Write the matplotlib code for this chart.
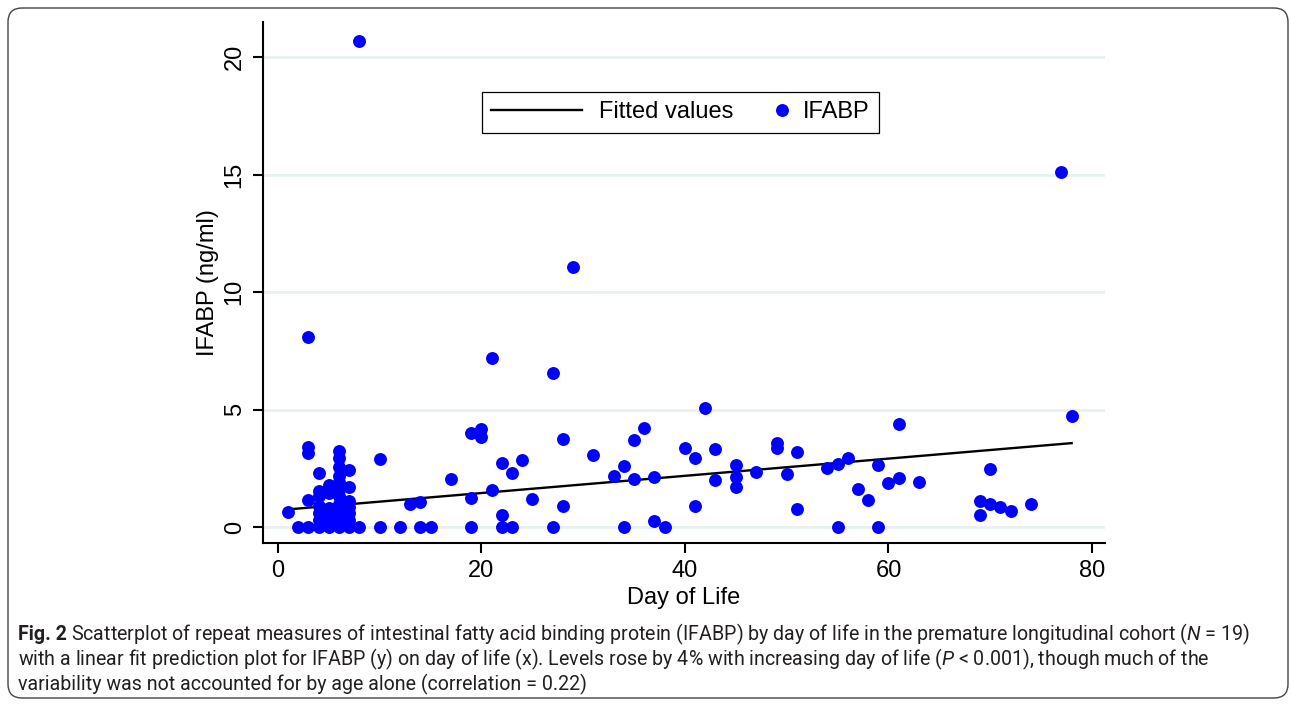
import numpy as np
import matplotlib
matplotlib.use("Agg")
import matplotlib.pyplot as plt
import matplotlib.patches as mpatches
import matplotlib.transforms as mtransforms
from matplotlib.lines import Line2D
from matplotlib.legend_handler import HandlerLine2D

# Repeat measures (day of life, IFABP ng/ml)
day_of_life = [
    1, 2,
    3, 3, 3, 3, 3,
    4, 4, 4, 4, 4, 4, 4,
    5, 5, 5, 5, 5, 5,
    6, 6, 6, 6, 6, 6, 6, 6, 6, 6, 6, 6,
    7, 7, 7, 7, 7, 7, 7,
    8, 8, 10, 10, 12, 13, 14, 14, 15, 17,
    19, 19, 19, 20, 20, 21, 21, 22, 22, 22, 23, 23, 24, 25,
    27, 27, 28, 28, 29, 31, 33, 34, 34, 35, 35, 36, 37, 37, 38,
    40, 41, 41, 42, 43, 43, 45, 45, 45, 47, 49, 49, 50, 51, 51,
    54, 55, 55, 56, 57, 58, 59, 59, 60, 61, 61, 63,
    69, 69, 70, 70, 71, 72, 74, 77, 78,
]
ifabp = [
    0.65, 0.0,
    0.0, 1.15, 3.15, 3.42, 8.1,
    0.0, 0.3, 0.6, 0.9, 1.3, 1.55, 2.3,
    0.0, 0.2, 0.5, 0.8, 1.45, 1.8,
    0.0, 0.2, 0.45, 0.7, 1.0, 1.3, 1.6, 1.9, 2.15, 2.55, 2.95, 3.22,
    0.0, 0.3, 0.6, 0.85, 1.1, 1.7, 2.42,
    0.0, 20.7, 0.0, 2.9, 0.0, 1.0, 1.06, 0.0, 0.0, 2.05,
    0.0, 1.23, 3.98, 4.15, 3.83, 1.57, 7.2, 0.0, 0.5, 2.73, 0.0, 2.3, 2.85, 1.2,
    0.0, 6.55, 0.9, 3.74, 11.05, 3.08, 2.17, 0.0, 2.6, 2.05, 3.7, 4.2, 0.25, 2.12, 0.0,
    3.37, 0.9, 2.94, 5.06, 2.0, 3.3, 1.72, 2.14, 2.63, 2.32, 3.36, 3.57, 2.26, 0.76, 3.18,
    2.52, 0.0, 2.67, 2.95, 1.62, 1.15, 0.0, 2.64, 1.87, 2.08, 4.37, 1.93,
    0.5, 1.1, 1.0, 2.47, 0.85, 0.68, 1.0, 15.1, 4.72,
]

# Ends of the linear fit line
fit_x = [1, 78]
fit_y = [0.75, 3.57]

x_ticks = [0, 20, 40, 60, 80]
y_ticks = [0, 5, 10, 15, 20]

caption_bold = "Fig. 2"
caption_lines = [
    "Scatterplot of repeat measures of intestinal fatty acid binding protein (IFABP) "
    r"by day of life in the premature longitudinal cohort ($\mathit{N}$ = 19)",
    "with a linear fit prediction plot for IFABP (y) on day of life (x). Levels rose by 4% with "
    r"increasing day of life ($\mathit{P}$ < 0.001), though much of the",
    "variability was not accounted for by age alone (correlation = 0.22)",
]

cap_font = ["Roboto", "DejaVu Sans"]

plt.rcParams["font.family"] = ["Liberation Sans", "DejaVu Sans"]
plt.rcParams["mathtext.fontset"] = "custom"
plt.rcParams["mathtext.rm"] = "Roboto"
plt.rcParams["mathtext.it"] = "Roboto:italic"
plt.rcParams["mathtext.bf"] = "Roboto:bold"


class MarkerAtRight(HandlerLine2D):
    # put the single marker near the right end of the handle box
    def get_xdata(self, legend, xdescent, ydescent, width, height, fontsize):
        xm = -xdescent + width - 0.2 * fontsize
        return np.array([xm, xm]), np.array([xm])


W, H = 1290, 704
fig = plt.figure(figsize=(W / 100, H / 100), dpi=100)
ax = fig.add_axes([263 / W, 1 - 543 / H, (1105 - 263) / W, (543 - 22) / H])

# light horizontal grid
ax.set_axisbelow(True)
ax.grid(axis="y", color="#e8f0f2", linewidth=2.0)

# fitted line and the points
ax.plot(fit_x, fit_y, color="black", linewidth=1.7, zorder=2)
ax.plot(day_of_life, ifabp, linestyle="none", marker="o", markersize=9.3,
        markerfacecolor="#0000ff", markeredgewidth=0, zorder=3)

ax.set_xlim(-1.47, 81.28)
ax.set_ylim(-0.68, 21.49)
ax.set_xticks(x_ticks)
ax.set_yticks(y_ticks)

for side in ["top", "right"]:
    ax.spines[side].set_visible(False)
for side in ["left", "bottom"]:
    ax.spines[side].set_linewidth(1.5)

ax.tick_params(axis="both", direction="out", length=7.5, width=1.5, labelsize=17, pad=5)
for lab in ax.get_yticklabels():
    lab.set_rotation(90)
    lab.set_va("center")

ax.set_xlabel("Day of Life", fontsize=17, labelpad=3)
ax.set_ylabel("IFABP (ng/ml)", fontsize=17, labelpad=3)

# legend
fit_handle = Line2D([], [], color="black", linewidth=1.7)
pt_handle = Line2D([], [], linestyle="none", marker="o", markersize=9.3,
                   markerfacecolor="#0000ff", markeredgewidth=0)
leg = ax.legend([fit_handle, pt_handle], ["Fitted values", "IFABP"],
                loc="upper left", bbox_to_anchor=(0.2601, 0.8656), borderaxespad=0,
                ncol=2, fontsize=17, handlelength=3.85, handletextpad=0.7,
                columnspacing=-1.6, borderpad=0.4, fancybox=False, framealpha=1,
                edgecolor="black", handler_map={pt_handle: MarkerAtRight()})
leg.get_frame().set_linewidth(0.9)

# rounded border around the figure and caption
border = mpatches.FancyBboxPatch((8, 6), 1280, 690,
                                 boxstyle="round,pad=0,rounding_size=14",
                                 transform=mtransforms.IdentityTransform(),
                                 facecolor="none", edgecolor="#444444", linewidth=1.0)
fig.add_artist(border)

# caption: bold figure number, then the text lines
cap_size = 14.1
cap_y = [640, 665, 690]
renderer = fig.canvas.get_renderer()
t0 = fig.text(18 / W, 1 - cap_y[0] / H, caption_bold, fontsize=cap_size, family=cap_font,
              weight="bold", color="#231f20", va="baseline", ha="left")
x_after = t0.get_window_extent(renderer).x1 + 4
fig.text(x_after / W, 1 - cap_y[0] / H, caption_lines[0], fontsize=cap_size, family=cap_font,
         color="#231f20", va="baseline", ha="left")
for line, yy in zip(caption_lines[1:], cap_y[1:]):
    fig.text(18 / W, 1 - yy / H, line, fontsize=cap_size, family=cap_font,
             color="#231f20", va="baseline", ha="left")

fig.savefig("out.png", dpi=100)
